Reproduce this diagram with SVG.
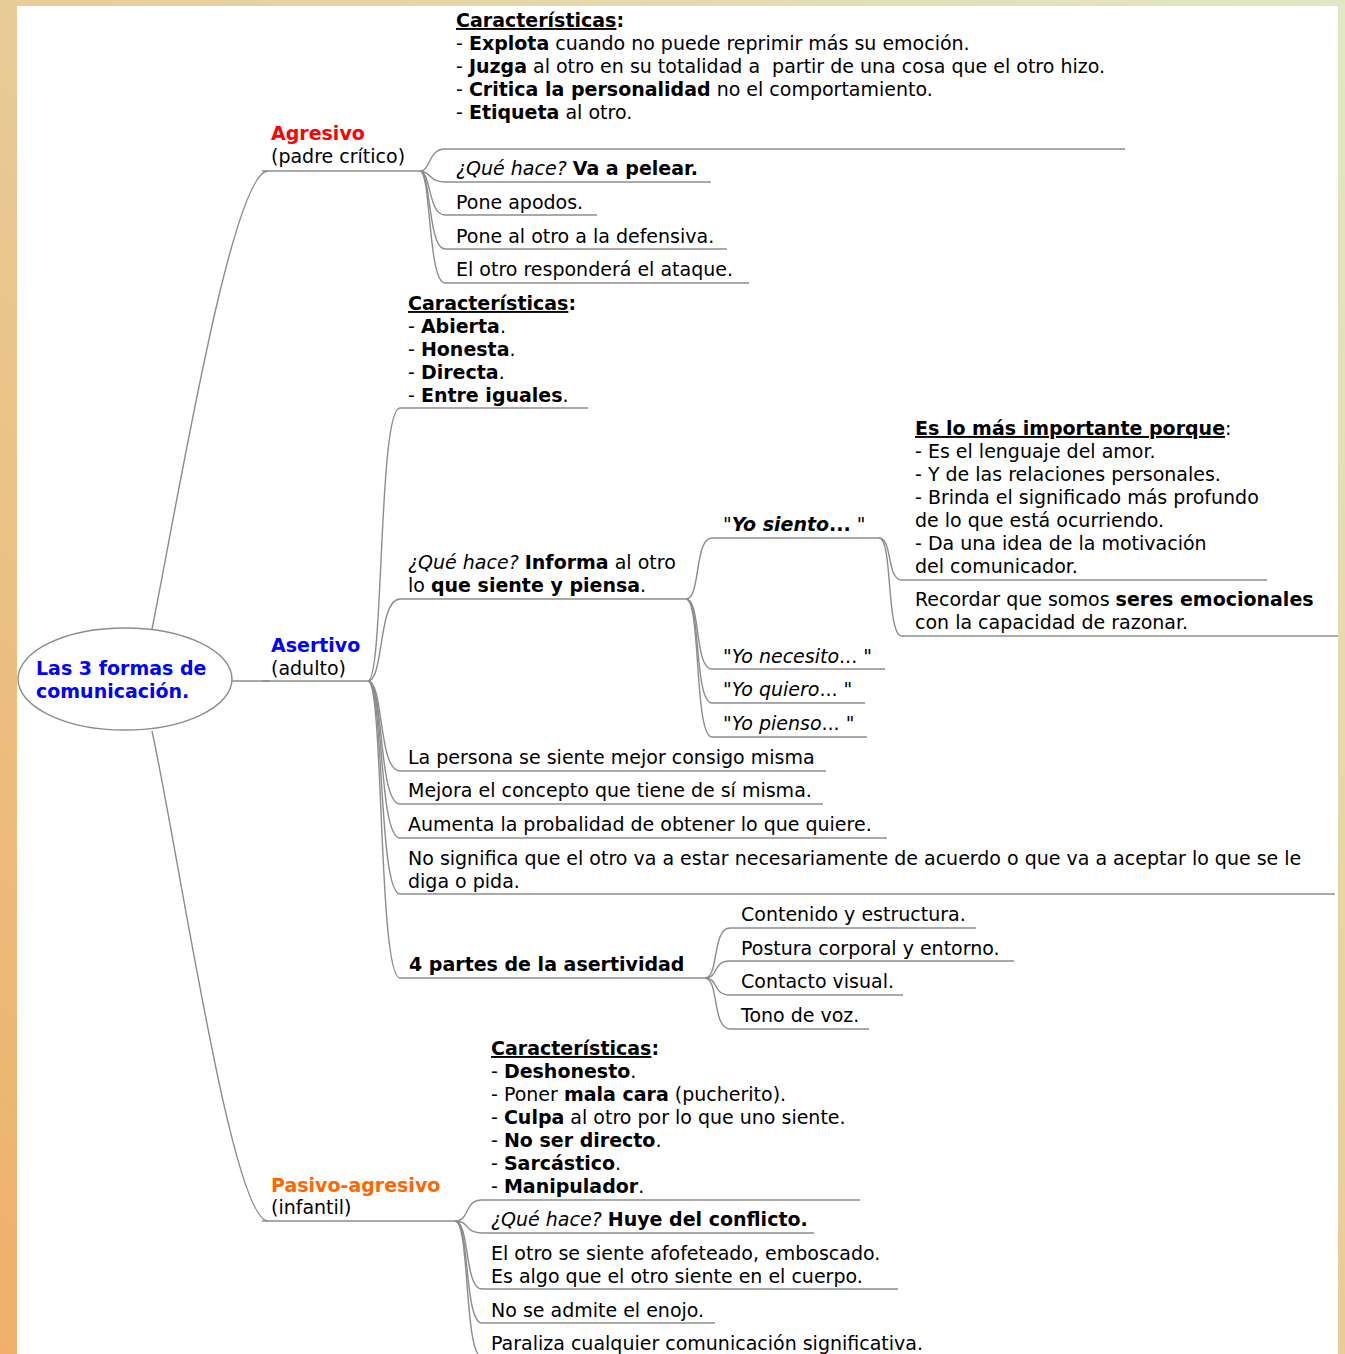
<svg xmlns="http://www.w3.org/2000/svg" width="1345" height="1354" viewBox="0 0 1345 1354">
<defs>
<linearGradient id="bg" x1="0" y1="1354" x2="1345" y2="0" gradientUnits="userSpaceOnUse">
<stop offset="0" stop-color="#F0B06A"/>
<stop offset="0.45" stop-color="#E9C991"/>
<stop offset="1" stop-color="#E1E8C6"/>
</linearGradient>
<style>
.t{font-family:"DejaVu Sans","Liberation Sans",sans-serif;font-size:19px;fill:#000}
.b{font-weight:bold}
.i{font-style:italic}
.u{text-decoration:underline}
.e{fill:none;stroke:#8c8c8c;stroke-width:1.4}
.ul{stroke:#8c8c8c;stroke-width:1.4}
</style>
</defs>
<rect x="0" y="0" width="1345" height="1354" fill="url(#bg)"/>
<rect x="17" y="6" width="1321" height="1348" fill="#FFFFFF"/>

<g id="connectors">
<path class="e" d="M152,629 C178,500 232,171 268,171"/>
<path class="e" d="M231,681 L270,681"/>
<path class="e" d="M152,731 C180,860 232,1221 268,1221"/>
<path class="e" d="M420,171 C431,171 428,149 445,149"/>
<path class="e" d="M420,171 C431,171 428,182 445,182"/>
<path class="e" d="M420,171 C431,171 428,215 445,215"/>
<path class="e" d="M420,171 C431,171 428,249 445,249"/>
<path class="e" d="M420,171 C431,171 428,283 445,283"/>
<path class="e" d="M368,681 C384,681 378,408 400,408"/>
<path class="e" d="M368,681 C384,681 378,599 400,599"/>
<path class="e" d="M368,681 C384,681 378,771 400,771"/>
<path class="e" d="M368,681 C384,681 378,804 400,804"/>
<path class="e" d="M368,681 C384,681 378,838 400,838"/>
<path class="e" d="M368,681 C384,681 378,894 400,894"/>
<path class="e" d="M368,681 C384,681 378,978 400,978"/>
<path class="e" d="M686,599 C701,599 694,538 712,538"/>
<path class="e" d="M686,599 C701,599 694,669 712,669"/>
<path class="e" d="M686,599 C701,599 694,703 712,703"/>
<path class="e" d="M686,599 C701,599 694,737 712,737"/>
<path class="e" d="M879,538 C893,538 886,580 902,580"/>
<path class="e" d="M879,538 C893,538 886,636 902,636"/>
<path class="e" d="M705,978 C719,978 712,928 730,928"/>
<path class="e" d="M705,978 C719,978 712,961 730,961"/>
<path class="e" d="M705,978 C719,978 712,995 730,995"/>
<path class="e" d="M705,978 C719,978 712,1029 730,1029"/>
<path class="e" d="M455,1221 C470,1221 464,1200 482,1200"/>
<path class="e" d="M455,1221 C470,1221 464,1233 482,1233"/>
<path class="e" d="M455,1221 C470,1221 464,1289 482,1289"/>
<path class="e" d="M455,1221 C470,1221 464,1323 482,1323"/>
<path class="e" d="M455,1221 C470,1221 464,1357 482,1357"/>
</g>

<g id="root">
<ellipse cx="125" cy="679" rx="107" ry="51" fill="#FFFFFF" stroke="#8c8c8c" stroke-width="1.4"/>
<text class="t b" x="36" y="675" fill="#0000FF" style="fill:#0000FF">Las 3 formas de</text>
<text class="t b" x="36" y="698" style="fill:#0000FF">comunicación.</text>
</g>

<g id="agresivo">
<text class="t b" x="271" y="140" style="fill:#FF0000">Agresivo</text>
<text class="t" x="271" y="163">(padre crítico)</text>
<line class="ul" x1="262" y1="171" x2="420" y2="171"/>
</g>
<g id="agresivo-caracteristicas">
<text class="t" x="456" y="27"><tspan class="b u">Características</tspan><tspan class="b">:</tspan></text>
<text class="t" x="456" y="50">- <tspan class="b">Explota</tspan> cuando no puede reprimir más su emoción.</text>
<text class="t" x="456" y="73">- <tspan class="b">Juzga</tspan> al otro en su totalidad a&#160; partir de una cosa que el otro hizo.</text>
<text class="t" x="456" y="96">- <tspan class="b">Critica la personalidad</tspan> no el comportamiento.</text>
<text class="t" x="456" y="119">- <tspan class="b">Etiqueta</tspan> al otro.</text>
<line class="ul" x1="445" y1="149" x2="1125" y2="149"/>
</g>
<g id="agresivo-que-hace">
<text class="t" x="456" y="175"><tspan class="i">¿Qué hace?</tspan> <tspan class="b">Va a pelear.</tspan></text>
<line class="ul" x1="445" y1="182" x2="711" y2="182"/>
</g>
<g id="agresivo-apodos">
<text class="t" x="456" y="209">Pone apodos.</text>
<line class="ul" x1="445" y1="215" x2="597" y2="215"/>
</g>
<g id="agresivo-defensiva">
<text class="t" x="456" y="243">Pone al otro a la defensiva.</text>
<line class="ul" x1="445" y1="249" x2="727" y2="249"/>
</g>
<g id="agresivo-ataque">
<text class="t" x="456" y="276">El otro responderá el ataque.</text>
<line class="ul" x1="445" y1="283" x2="749" y2="283"/>
</g>

<g id="asertivo">
<text class="t b" x="271" y="652" style="fill:#0000FF">Asertivo</text>
<text class="t" x="271" y="675">(adulto)</text>
<line class="ul" x1="262" y1="681" x2="368" y2="681"/>
</g>
<g id="asertivo-caracteristicas">
<text class="t" x="408" y="310"><tspan class="b u">Características</tspan><tspan class="b">:</tspan></text>
<text class="t" x="408" y="333">- <tspan class="b">Abierta</tspan>.</text>
<text class="t" x="408" y="356">- <tspan class="b">Honesta</tspan>.</text>
<text class="t" x="408" y="379">- <tspan class="b">Directa</tspan>.</text>
<text class="t" x="408" y="402">- <tspan class="b">Entre iguales</tspan>.</text>
<line class="ul" x1="400" y1="408" x2="588" y2="408"/>
</g>
<g id="asertivo-que-hace">
<text class="t" x="408" y="569"><tspan class="i">¿Qué hace?</tspan> <tspan class="b">Informa</tspan> al otro</text>
<text class="t" x="408" y="592">lo <tspan class="b">que siente y piensa</tspan>.</text>
<line class="ul" x1="400" y1="599" x2="686" y2="599"/>
</g>
<g id="yo-siento">
<text class="t" x="723" y="531">"<tspan class="b i">Yo siento</tspan><tspan class="b">...</tspan> "</text>
<line class="ul" x1="712" y1="538" x2="879" y2="538"/>
</g>
<g id="importante">
<text class="t" x="915" y="435"><tspan class="b u">Es lo más importante porque</tspan>:</text>
<text class="t" x="915" y="458">- Es el lenguaje del amor.</text>
<text class="t" x="915" y="481">- Y de las relaciones personales.</text>
<text class="t" x="915" y="504">- Brinda el significado más profundo</text>
<text class="t" x="915" y="527">de lo que está ocurriendo.</text>
<text class="t" x="915" y="550">- Da una idea de la motivación</text>
<text class="t" x="915" y="573">del comunicador.</text>
<line class="ul" x1="902" y1="580" x2="1267" y2="580"/>
</g>
<g id="recordar">
<text class="t" x="915" y="606">Recordar que somos <tspan class="b">seres emocionales</tspan></text>
<text class="t" x="915" y="629">con la capacidad de razonar.</text>
<line class="ul" x1="902" y1="636" x2="1338" y2="636"/>
</g>
<g id="yo-necesito">
<text class="t" x="723" y="663">"<tspan class="i">Yo necesito</tspan>... "</text>
<line class="ul" x1="712" y1="669" x2="885" y2="669"/>
</g>
<g id="yo-quiero">
<text class="t" x="723" y="696">"<tspan class="i">Yo quiero</tspan>... "</text>
<line class="ul" x1="712" y1="703" x2="865" y2="703"/>
</g>
<g id="yo-pienso">
<text class="t" x="723" y="730">"<tspan class="i">Yo pienso</tspan>... "</text>
<line class="ul" x1="712" y1="737" x2="867" y2="737"/>
</g>
<g id="mejor">
<text class="t" x="408" y="764">La persona se siente mejor consigo misma</text>
<line class="ul" x1="400" y1="771" x2="826" y2="771"/>
</g>
<g id="concepto">
<text class="t" x="408" y="797">Mejora el concepto que tiene de sí misma.</text>
<line class="ul" x1="400" y1="804" x2="823" y2="804"/>
</g>
<g id="probabilidad">
<text class="t" x="408" y="831">Aumenta la probalidad de obtener lo que quiere.</text>
<line class="ul" x1="400" y1="838" x2="887" y2="838"/>
</g>
<g id="no-significa">
<text class="t" x="408" y="865">No significa que el otro va a estar necesariamente de acuerdo o que va a aceptar lo que se le</text>
<text class="t" x="408" y="888">diga o pida.</text>
<line class="ul" x1="400" y1="894" x2="1335" y2="894"/>
</g>
<g id="cuatro-partes">
<text class="t b" x="409" y="971">4 partes de la asertividad</text>
<line class="ul" x1="400" y1="978" x2="705" y2="978"/>
</g>
<g id="contenido">
<text class="t" x="741" y="921">Contenido y estructura.</text>
<line class="ul" x1="730" y1="928" x2="976" y2="928"/>
</g>
<g id="postura">
<text class="t" x="741" y="955">Postura corporal y entorno.</text>
<line class="ul" x1="730" y1="961" x2="1014" y2="961"/>
</g>
<g id="contacto">
<text class="t" x="741" y="988">Contacto visual.</text>
<line class="ul" x1="730" y1="995" x2="903" y2="995"/>
</g>
<g id="tono">
<text class="t" x="741" y="1022">Tono de voz.</text>
<line class="ul" x1="730" y1="1029" x2="869" y2="1029"/>
</g>

<g id="pasivo">
<text class="t b" x="271" y="1192" style="fill:#FF6600">Pasivo-agresivo</text>
<text class="t" x="271" y="1214">(infantil)</text>
<line class="ul" x1="262" y1="1221" x2="455" y2="1221"/>
</g>
<g id="pasivo-caracteristicas">
<text class="t" x="491" y="1055"><tspan class="b u">Características</tspan><tspan class="b">:</tspan></text>
<text class="t" x="491" y="1078">- <tspan class="b">Deshonesto</tspan>.</text>
<text class="t" x="491" y="1101">- Poner <tspan class="b">mala cara</tspan> (pucherito).</text>
<text class="t" x="491" y="1124">- <tspan class="b">Culpa</tspan> al otro por lo que uno siente.</text>
<text class="t" x="491" y="1147">- <tspan class="b">No ser directo</tspan>.</text>
<text class="t" x="491" y="1170">- <tspan class="b">Sarcástico</tspan>.</text>
<text class="t" x="491" y="1193">- <tspan class="b">Manipulador</tspan>.</text>
<line class="ul" x1="482" y1="1200" x2="860" y2="1200"/>
</g>
<g id="pasivo-que-hace">
<text class="t" x="491" y="1226"><tspan class="i">¿Qué hace?</tspan> <tspan class="b">Huye del conflicto.</tspan></text>
<line class="ul" x1="482" y1="1233" x2="814" y2="1233"/>
</g>
<g id="afofeteado">
<text class="t" x="491" y="1260">El otro se siente afofeteado, emboscado.</text>
<text class="t" x="491" y="1283">Es algo que el otro siente en el cuerpo.</text>
<line class="ul" x1="482" y1="1289" x2="898" y2="1289"/>
</g>
<g id="enojo">
<text class="t" x="491" y="1317">No se admite el enojo.</text>
<line class="ul" x1="482" y1="1323" x2="715" y2="1323"/>
</g>
<g id="paraliza">
<text class="t" x="491" y="1350">Paraliza cualquier comunicación significativa.</text>
<line class="ul" x1="482" y1="1357" x2="920" y2="1357"/>
</g>
</svg>
